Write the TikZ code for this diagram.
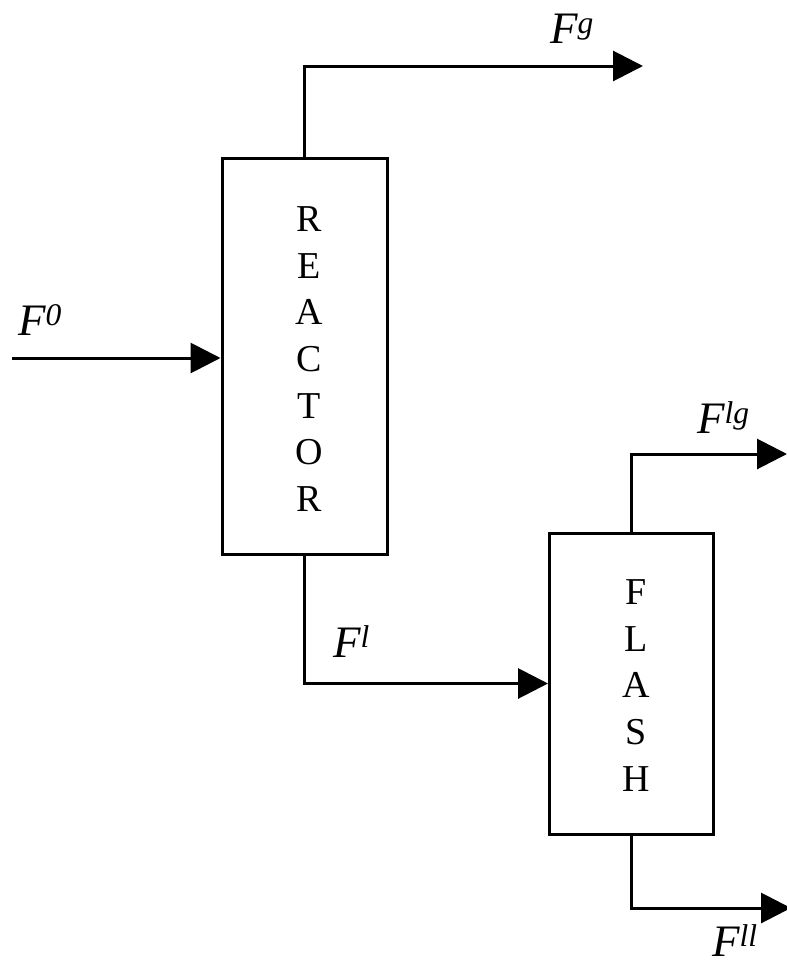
\documentclass[tikz,border=0pt]{standalone}
\usepackage{fontspec}
\setmainfont{Liberation Serif}
\usetikzlibrary{arrows.meta}
\begin{document}
\begin{tikzpicture}[x=1pt,y=-1pt,
  unit/.style={draw, line width=3pt, rectangle, inner sep=0pt},
  boxtext/.style={inner sep=0pt, align=center, font=\fontsize{38}{46.7}\selectfont},
  stream/.style={line width=3pt, -{Triangle[length=30pt,width=30pt]}},
  lbl/.style={anchor=base west, inner sep=0pt, font=\fontsize{45}{54}\selectfont\itshape}]
\path[use as bounding box, clip] (0,0) rectangle (787,964);

% process units
\node[unit, minimum width=165pt, minimum height=396pt] (reactor) at (304.5,356) {};
\node[boxtext] (reactortext) at (309,359) {R\\E\\A\\C\\T\\O\\R};
\node[unit, minimum width=164pt, minimum height=301pt] (flash) at (631.5,683.5) {};
\node[boxtext] (flashtext) at (636,685.5) {F\\L\\A\\S\\H};

% streams
\coordinate (feed) at (12,358);
\coordinate (gasout) at (643,66);
\coordinate (lgout) at (787,454);
\coordinate (llout) at (791,908);
\draw[stream] (feed) -- (feed -| reactor.west);
\draw[stream] (reactor.north) |- (gasout);
\draw[stream] (reactor.south) |- (flash.west);
\draw[stream] (flash.north) |- (lgout);
\draw[stream] (flash.south) |- (llout);

% stream labels
\node[lbl] (f0) at (18,335) {F\textsuperscript{0}};
\node[lbl] (fg) at (550,43) {F\textsuperscript{g}};
\node[lbl] (fl) at (333,657) {F\textsuperscript{l}};
\node[lbl] (flg) at (697,433) {F\textsuperscript{lg}};
\node[lbl] (fll) at (712,956) {F\textsuperscript{ll}};
\end{tikzpicture}
\end{document}
